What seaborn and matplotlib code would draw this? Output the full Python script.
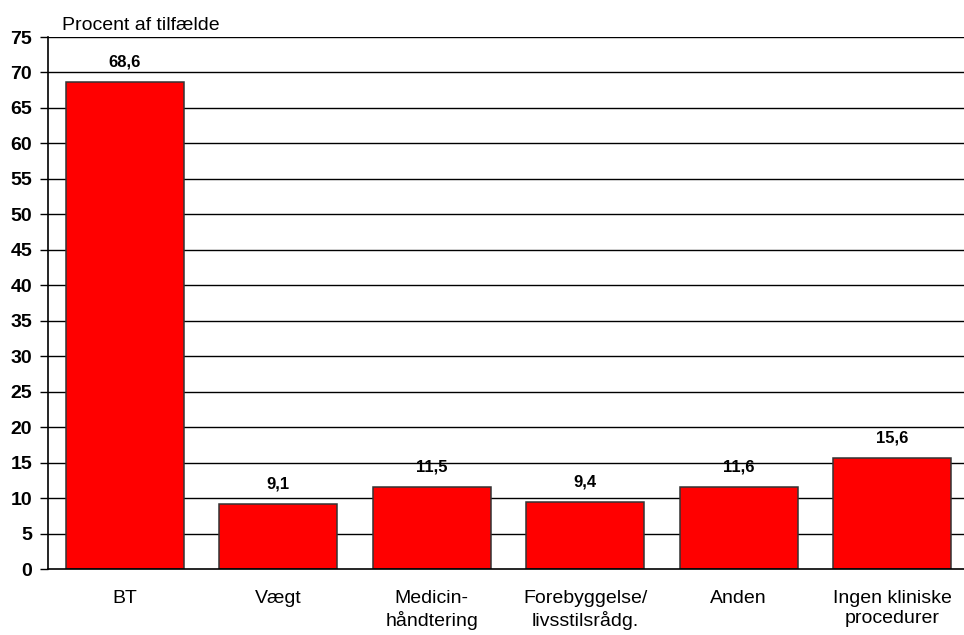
import matplotlib
matplotlib.use("Agg")
import matplotlib.pyplot as plt
import seaborn as sns
import pandas as pd

categories = ["BT", "Vægt", "Medicin-\nhåndtering", "Forebyggelse/\nlivsstilsrådg.", "Anden", "Ingen kliniske\nprocedurer"]
values = [68.6, 9.1, 11.5, 9.4, 11.6, 15.6]
y_ticks = list(range(0, 80, 5))
y_title = "Procent af tilfælde"

sns.set_theme(style="white")
plt.rcParams["font.family"] = ["Liberation Sans", "DejaVu Sans"]
plt.rcParams["text.color"] = "black"
plt.rcParams["xtick.color"] = "black"
plt.rcParams["ytick.color"] = "black"
plt.rcParams["xtick.labelcolor"] = "black"
plt.rcParams["ytick.labelcolor"] = "black"

df = pd.DataFrame({"kategori": categories, "procent": values})

fig = plt.figure(figsize=(9.64, 6.35), dpi=100)
ax = fig.add_axes([48 / 964, 1 - 569 / 635, (969 - 48) / 964, (569 - 37) / 635])

sns.barplot(data=df, x="kategori", y="procent", color="#ff0000", saturation=1,
            width=0.77, edgecolor="#333333", linewidth=1.1, ax=ax, zorder=3)

ax.set_ylim(0, 75)
ax.set_xlim(-0.5, len(categories) - 0.5)
ax.set_yticks(y_ticks)
ax.set_yticklabels([str(t) for t in y_ticks], fontsize=14, fontweight="bold", color="black")
for y in y_ticks[1:]:
    ax.axhline(y, color="black", linewidth=1.0, zorder=1)

ax.set_xticks(range(len(categories)))
ax.set_xticklabels(categories, fontsize=14, linespacing=1.25, color="black")
ax.tick_params(axis="x", length=0, pad=15)
# category boundary ticks
ax.set_xticks([i - 0.5 for i in range(len(categories) + 1)], minor=True)
ax.tick_params(axis="x", which="minor", length=6, width=1.0, color="black", direction="out")
ax.tick_params(axis="y", length=6, width=1.0, color="black", direction="out", left=True, pad=5.5)

for s in ["top", "right"]:
    ax.spines[s].set_visible(False)
for s in ["left", "bottom"]:
    ax.spines[s].set_color("black")
    ax.spines[s].set_linewidth(1.2)
    ax.spines[s].set_zorder(4)

ax.set_xlabel("")
ax.set_ylabel("")

for i, v in enumerate(values):
    ax.annotate(f"{v:.1f}".replace(".", ","), (i, v), xytext=(0, 14.5), textcoords="offset points",
                ha="center", va="center", fontsize=12, fontweight="bold", color="black")

fig.text(62 / 964, 1 - 25.5 / 635, y_title, fontsize=14, ha="left", va="center", color="black")

fig.savefig("out.png", dpi=100)
